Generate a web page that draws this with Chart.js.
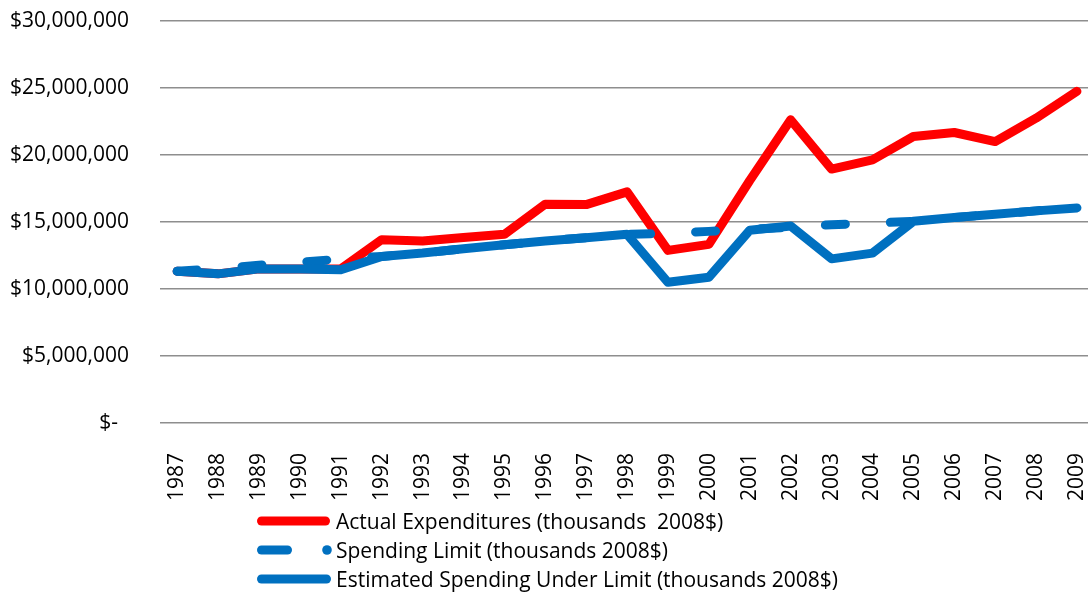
<!DOCTYPE html>
<html>
<head>
<meta charset="utf-8">
<script src="https://cdn.jsdelivr.net/npm/chart.js@4.4.1/dist/chart.umd.min.js"></script>
<style>
  html, body { margin: 0; padding: 0; background: #fff; }
  #wrap { position: relative; width: 1088px; height: 592px; overflow: hidden; }
  #legend { position: absolute; left: 0; top: 0; font-family: 'Open Sans', sans-serif; font-size: 21px; color: #000; }
  .row { position: absolute; left: 252px; height: 30px; display: flex; align-items: center; white-space: pre; }
  .row svg { display: block; flex: none; }
</style>
</head>
<body>
<div id="wrap">
  <canvas id="chart" width="1088" height="592"></canvas>
  <div id="legend"></div>
</div>
<script>
// years on the category axis
const years = [1987, 1988, 1989, 1990, 1991, 1992, 1993, 1994, 1995, 1996, 1997, 1998,
               1999, 2000, 2001, 2002, 2003, 2004, 2005, 2006, 2007, 2008, 2009];

// values in millions
const actualExp = [11.33, 11.13, 11.5, 11.5, 11.5, 13.68, 13.58, 13.85, 14.08, 16.33, 16.3, 17.25,
                   12.88, 13.33, 18.1, 22.63, 18.95, 19.63, 21.38, 21.68, 21.0, 22.75, 24.75];
const spendLimit = [11.33, 11.5, 11.78, 12.0, 12.23, 12.43, 12.68, 13.0, 13.3, 13.58, 13.83, 14.08,
                    14.15, 14.3, 14.45, 14.6, 14.8, 14.92, 15.05, 15.33, 15.58, 15.83, 16.05];
const estUnderLimit = [11.33, 11.13, 11.5, 11.5, 11.43, 12.43, 12.68, 13.0, 13.3, 13.58, 13.83, 14.08,
                       10.5, 10.88, 14.38, 14.7, 12.25, 12.68, 15.05, 15.33, 15.58, 15.83, 16.05];

const yTicks = [0, 5e6, 10e6, 15e6, 20e6, 25e6, 30e6];

const legendNames = [
  "Actual Expenditures (thousands  2008$)",
  "Spending Limit (thousands 2008$)",
  "Estimated Spending Under Limit (thousands 2008$)"
];

const RED = "#ff0000";
const BLUE = "#0070c0";

function toPoints(values) {
  return years.map((yr, i) => ({ x: yr, y: values[i] * 1e6 }));
}

function moneyLabel(v) {
  if (v === 0) return "$-  ";
  return "$" + v.toLocaleString("en-US");
}

Chart.defaults.font.family = "'Open Sans', sans-serif";
Chart.defaults.font.size = 21;
Chart.defaults.color = "#000";

const lineBase = {
  borderWidth: 9,
  pointRadius: 0,
  tension: 0,
  fill: false,
  borderCapStyle: "round",
  borderJoinStyle: "round"
};

const ctx = document.getElementById("chart").getContext("2d");
const chart = new Chart(ctx, {
  type: "line",
  data: {
    datasets: [
      { ...lineBase, label: legendNames[0], data: toPoints(actualExp), borderColor: RED, order: 3 },
      { ...lineBase, label: legendNames[1], data: toPoints(spendLimit), borderColor: BLUE, borderDash: [20, 45], order: 2 },
      { ...lineBase, label: legendNames[2], data: toPoints(estUnderLimit), borderColor: BLUE, order: 1 }
    ]
  },
  options: {
    responsive: false,
    animation: false,
    layout: { padding: { top: 21, right: 0, left: 0, bottom: 0 } },
    plugins: {
      legend: { display: false },
      tooltip: { enabled: false }
    },
    scales: {
      x: {
        type: "linear",
        min: 1986.58,
        max: 2009.27,
        grid: { display: false },
        border: { display: false },
        ticks: { minRotation: 90, maxRotation: 90, padding: 22, autoSkip: false, callback: v => String(v) },
        afterBuildTicks: s => { s.ticks = years.map(v => ({ value: v })); },
        afterFit: s => { s.height = 169; s.paddingLeft = 0; s.paddingRight = 0; }
      },
      y: {
        min: 0,
        max: 30e6,
        grid: { color: "#8e8e8e", lineWidth: 1.5, drawTicks: false },
        border: { display: false },
        ticks: { padding: 31, callback: moneyLabel },
        afterBuildTicks: s => { s.ticks = yTicks.map(v => ({ value: v })); },
        afterFit: s => { s.width = 160; s.paddingTop = 0; s.paddingBottom = 0; }
      }
    }
  }
});

// legend below the plot, one entry per row
const legendRows = [
  { y: 521, svg: '<line x1="9.5" y1="15" x2="73.5" y2="15" stroke="' + RED + '" stroke-width="9" stroke-linecap="round"/>' },
  { y: 550, svg: '<line x1="9.5" y1="15" x2="35.5" y2="15" stroke="' + BLUE + '" stroke-width="9" stroke-linecap="round"/>' +
                 '<circle cx="75" cy="15" r="4.8" fill="' + BLUE + '"/>' },
  { y: 579, svg: '<line x1="9.5" y1="15" x2="74.5" y2="15" stroke="' + BLUE + '" stroke-width="9" stroke-linecap="round"/>' }
];
const legendEl = document.getElementById("legend");
legendRows.forEach((r, i) => {
  const row = document.createElement("div");
  row.className = "row";
  row.style.top = (r.y - 15) + "px";
  row.innerHTML = '<svg width="84" height="30">' + r.svg + '</svg>';
  const span = document.createElement("span");
  span.textContent = legendNames[i];
  row.appendChild(span);
  legendEl.appendChild(row);
});
</script>
</body>
</html>
